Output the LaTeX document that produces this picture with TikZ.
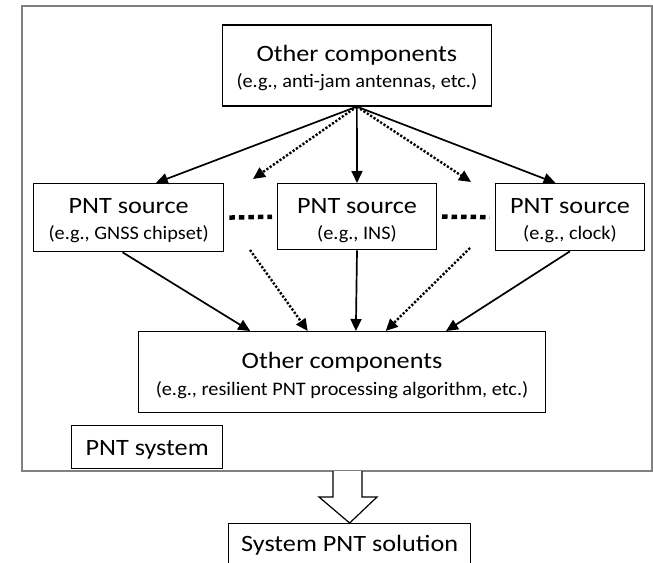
\documentclass[tikz,border=0pt]{standalone}
\usepackage{fontspec}
\setmainfont{Carlito}
\usetikzlibrary{arrows.meta,calc}
\newcommand{\mtxt}[1]{\scalebox{1.12}[1]{\fontsize{23.5}{26}\selectfont #1}}
\newcommand{\stxt}[1]{\scalebox{1.06}[1]{\fontsize{19.2}{22}\selectfont #1}}
\begin{document}
\begin{tikzpicture}[x=1bp,y=-1bp,
  box/.style={draw=black,line width=1.3bp,fill=white,inner sep=0pt,anchor=north west},
  lbl/.style={inner sep=0pt,anchor=base},
  arr/.style={line width=1.7bp,-{Triangle[length=12bp,width=11bp]}},
  darr/.style={line width=2.4bp,dash pattern=on 2.2bp off 1.8bp,-{Triangle[length=12bp,width=11bp]}},
  gap/.style={line width=4.5bp,dash pattern=on 5.5bp off 4bp,shorten <=5bp,shorten >=5bp}]
\useasboundingbox (0,0) rectangle (653,563);
\clip (0,0) rectangle (653,563);
\draw[draw=black!50,line width=1.5bp] (22,6) rectangle (652,471);
% boxes
\node[box,minimum width=269bp,minimum height=81bp] (top) at (221.7,24.3) {};
\node[box,minimum width=190bp,minimum height=68bp] (src1) at (33,183) {};
\node[box,minimum width=158.7bp,minimum height=66bp] (src2) at (277,183) {};
\node[box,minimum width=149.3bp,minimum height=67bp] (src3) at (494.7,183) {};
\node[box,minimum width=406.7bp,minimum height=81bp] (bot) at (138,331) {};
\node[box,minimum width=151bp,minimum height=43bp] (sys) at (71,425) {};
\node[box,minimum width=242bp,minimum height=44bp] (sol) at (228,523) {};
% texts
\node[lbl] (topa) at ($(top.north)+(0,37.4)$) {\mtxt{Other components}};
\node[lbl] (topb) at ($(top.north)+(0,63)$) {\stxt{(e.g., anti-jam antennas, etc.)}};
\node[lbl] (s1a) at ($(src1.north)+(0,30.3)$) {\mtxt{PNT source}};
\node[lbl] (s1b) at ($(src1.north)+(0,56.5)$) {\stxt{(e.g., GNSS chipset)}};
\node[lbl] (s2a) at ($(src2.north)+(0,30.3)$) {\mtxt{PNT source}};
\node[lbl] (s2b) at ($(src2.north)+(0,56.5)$) {\stxt{(e.g., INS)}};
\node[lbl] (s3a) at ($(src3.north)+(0,30.3)$) {\mtxt{PNT source}};
\node[lbl] (s3b) at ($(src3.north)+(0,56.5)$) {\stxt{(e.g., clock)}};
\node[lbl] (bota) at ($(bot.north)+(0,37.3)$) {\mtxt{Other components}};
\node[lbl] (botb) at ($(bot.north)+(0,64)$) {\stxt{(e.g., resilient PNT processing algorithm, etc.)}};
\node[lbl] (sysa) at ($(sys.north)+(0,30.5)$) {\mtxt{PNT system}};
\node[lbl] (sola) at ($(sol.north)+(0,28.7)$) {\mtxt{System PNT solution}};
% dotted gaps
\draw[gap] (src1.east) -- (src2.west);
\draw[gap] (src2.east) -- (src3.west);
% free ends of dotted arrows
\coordinate (d1) at (253,179);
\coordinate (d2) at (471,182);
\coordinate (d3) at (250,250);
\coordinate (d4) at (470,248);
% top arrows
\draw[arr] (top.south) -- ($(src1.north west)!0.642!(src1.north east)$);
\draw[darr] (top.south) -- (d1);
\draw[arr] (top.south) -- (src2.north);
\draw[darr] (top.south) -- (d2);
\draw[arr] (top.south) -- ($(src3.north west)!0.404!(src3.north east)$);
% lower arrows
\draw[arr] ($(src1.south west)!0.468!(src1.south east)$) -- ($(bot.north west)!0.275!(bot.north east)$);
\draw[darr] (d3) -- ($(bot.north west)!0.416!(bot.north east)$);
\draw[arr] (src2.south) -- ($(bot.north west)!0.534!(bot.north east)$);
\draw[darr] (d4) -- ($(bot.north west)!0.607!(bot.north east)$);
\draw[arr] (src3.south) -- ($(bot.north west)!0.755!(bot.north east)$);
% hollow arrow
\draw[line width=1.2bp,fill=white] (333,471) -- (333,497) -- (319,497) -- (sol.north) -- (377,497) -- (362,497) -- (362,471);
\end{tikzpicture}
\end{document}
